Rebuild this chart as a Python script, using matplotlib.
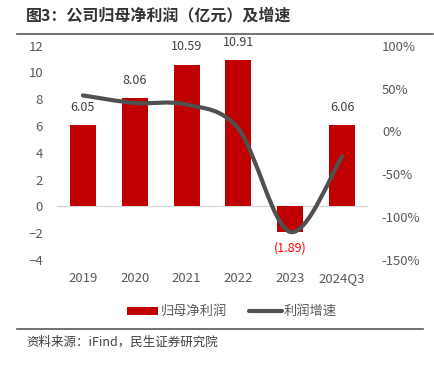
import numpy as np
import matplotlib.pyplot as plt
from matplotlib.path import Path
from matplotlib.patches import PathPatch, Rectangle
from matplotlib.lines import Line2D

plt.rcParams['font.family'] = ['Noto Sans CJK SC', 'DejaVu Sans']

years = ['2019', '2020', '2021', '2022', '2023', '2024Q3']
profit = [6.05, 8.06, 10.59, 10.91, -1.89, 6.06]
growth = [42.0, 33.2, 31.4, 3.0, -117.3, -29.0]
bar_labels = ['6.05', '8.06', '10.59', '10.91', '(1.89)', '6.06']

W, H = 434, 366
fig = plt.figure(figsize=(W / 100, H / 100), dpi=100)
ax = fig.add_axes([57 / W, 1 - 260 / H, 311 / W, (260 - 45.7) / H])

x = np.arange(len(years))
ax.bar(x, profit, width=0.5, color='#C00000', zorder=2)
ax.axhline(0, color='#D9D9D9', lw=1, zorder=1)
ax.set_xlim(-0.5, 5.5)
ax.set_ylim(-4, 12)
ax.set_yticks(range(-4, 13, 2))
ax.set_xticks(x)
ax.set_xticklabels(years)
for s in ax.spines.values():
    s.set_visible(False)
ax.tick_params(length=0, colors='#595959', labelsize=9.5)
ax.tick_params(axis='y', pad=10)
ax.tick_params(axis='x', pad=9)

for xi, v, lab in zip(x, profit, bar_labels):
    if v >= 0:
        ax.annotate(lab, (xi, v), xytext=(0, 13), textcoords='offset points',
                    ha='center', va='center', fontsize=9, color='#404040')
    else:
        ax.annotate(lab, (xi, v), xytext=(0, -12), textcoords='offset points',
                    ha='center', va='center', fontsize=9, color='#FF0000')

# growth line on right axis, smoothed like the excel chart
ax2 = ax.twinx()
ax2.set_ylim(-150, 100)
ax2.set_yticks(range(-150, 101, 50))
ax2.set_yticklabels([f'{t}%' for t in range(-150, 101, 50)])
for s in ax2.spines.values():
    s.set_visible(False)
ax2.tick_params(length=0, colors='#595959', labelsize=9.5, pad=10)

pts = np.column_stack([x, growth]).astype(float)
verts = [pts[0]]
codes = [Path.MOVETO]
n = len(pts)
for i in range(n - 1):
    p0 = pts[max(i - 1, 0)]
    p1 = pts[i]
    p2 = pts[i + 1]
    p3 = pts[min(i + 2, n - 1)]
    verts += [p1 + (p2 - p0) / 6, p2 - (p3 - p1) / 6, p2]
    codes += [Path.CURVE4] * 3
ax2.add_patch(PathPatch(Path(verts, codes), facecolor='none', edgecolor='#505050',
                        lw=3, capstyle='round', zorder=3))

# legend
tf = fig.transFigure
fig.patches.append(Rectangle((127 / W, 1 - 315 / H), 31 / W, 8 / H, transform=tf,
                             facecolor='#C00000', edgecolor='none'))
fig.text(161 / W, 1 - 311 / H, '归母净利润', fontsize=9.5, color='#595959',
         ha='left', va='center')
fig.lines.append(Line2D([249 / W, 282 / W], [1 - 311 / H] * 2, transform=tf,
                        color='#505050', lw=3, solid_capstyle='round'))
fig.text(284 / W, 1 - 311 / H, '利润增速', fontsize=9.5, color='#595959',
         ha='left', va='center')

# title and source
fig.text(26 / W, 1 - 15 / H, '图3：公司归母净利润（亿元）及增速', fontsize=11.5,
         fontweight='bold', color='#333333', ha='left', va='center')
fig.lines.append(Line2D([17 / W, 433 / W], [1 - 34 / H] * 2, transform=tf,
                        color='#595959', lw=1.2))
fig.lines.append(Line2D([17 / W, 423 / W], [1 - 329 / H] * 2, transform=tf,
                        color='#595959', lw=1.2))
fig.text(26 / W, 1 - 342 / H, '资料来源：iFind，民生证券研究院', fontsize=9,
         color='#404040', ha='left', va='center')

fig.savefig('out.png', dpi=100)
